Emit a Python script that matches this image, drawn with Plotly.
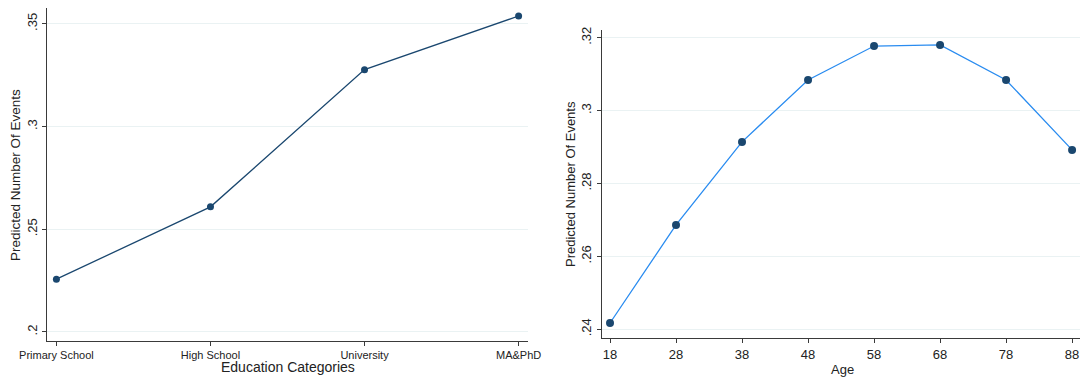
import plotly.graph_objects as go

# Left panel data
edu_categories = ["Primary School", "High School", "University", "MA&PhD"]
edu_values = [0.2257, 0.2609, 0.3277, 0.3538]
edu_yticks = [0.2, 0.25, 0.3, 0.35]
edu_yticklabels = [".2", ".25", ".3", ".35"]

# Right panel data
ages = [18, 28, 38, 48, 58, 68, 78, 88]
age_values = [0.2417, 0.2686, 0.2914, 0.3084, 0.3177, 0.3180, 0.3084, 0.2892]
age_yticks = [0.24, 0.26, 0.28, 0.30, 0.32]
age_yticklabels = [".24", ".26", ".28", ".3", ".32"]

W, H = 1081, 389
FONT = "Liberation Sans, Arial, Helvetica, sans-serif"
NAVY = "#1a476f"
LIGHT = "#2a8cf0"
AXC = "#3a3a3a"
GRID = "#eaf2f3"

def px_x(p):
    return p / W

def px_y(p):
    return 1 - p / H

fig = go.Figure()

fig.add_trace(go.Scatter(
    x=edu_categories, y=edu_values, mode="lines+markers",
    line=dict(color=NAVY, width=1.3),
    marker=dict(color=NAVY, size=7),
    xaxis="x", yaxis="y", showlegend=False,
))

fig.add_trace(go.Scatter(
    x=ages, y=age_values, mode="lines+markers",
    line=dict(color=LIGHT, width=1.3),
    marker=dict(color=NAVY, size=8),
    xaxis="x2", yaxis="y2", showlegend=False,
))

common_axis = dict(
    showline=True, linecolor=AXC, linewidth=1.2,
    ticks="outside", ticklen=4, tickcolor=AXC, tickwidth=1,
    zeroline=False, color="#222", automargin=False,
)

fig.update_layout(
    template="none",
    width=W, height=H,
    margin=dict(l=0, r=0, t=0, b=0, pad=0, autoexpand=False),
    paper_bgcolor="white", plot_bgcolor="white",
    font=dict(family=FONT, color="#222"),
    xaxis=dict(
        domain=[px_x(47), px_x(528)],
        type="category", range=[-0.061, 3.061],
        showgrid=False, anchor="y",
        tickfont=dict(size=11),
        **common_axis,
    ),
    yaxis=dict(
        domain=[px_y(341), px_y(8)],
        range=[0.1956, 0.3577],
        tickvals=edu_yticks, ticktext=edu_yticklabels,
        tickangle=-90, tickfont=dict(size=13),
        showgrid=True, gridcolor=GRID, gridwidth=1,
        anchor="x",
        **common_axis,
    ),
    xaxis2=dict(
        domain=[px_x(601.7), px_x(1080)],
        range=[16.74, 89.2],
        tickvals=ages, ticktext=[str(a) for a in ages],
        showgrid=False, anchor="y2",
        tickfont=dict(size=13),
        **common_axis,
    ),
    yaxis2=dict(
        domain=[px_y(338.3), px_y(30)],
        range=[0.2375, 0.3221],
        tickvals=age_yticks, ticktext=age_yticklabels,
        tickangle=-90, tickfont=dict(size=13),
        showgrid=True, gridcolor=GRID, gridwidth=1,
        anchor="x2",
        **common_axis,
    ),
    annotations=[
        dict(text="Predicted Number Of Events", x=px_x(15), y=px_y(175),
             xref="paper", yref="paper", textangle=-90, showarrow=False,
             font=dict(size=13.5, color="#222"), xanchor="center", yanchor="middle"),
        dict(text="Education Categories", x=px_x(288), y=px_y(367),
             xref="paper", yref="paper", showarrow=False,
             font=dict(size=14, color="#222"), xanchor="center", yanchor="middle"),
        dict(text="Predicted Number Of Events", x=px_x(570), y=px_y(184),
             xref="paper", yref="paper", textangle=-90, showarrow=False,
             font=dict(size=13, color="#222"), xanchor="center", yanchor="middle"),
        dict(text="Age", x=px_x(842), y=px_y(369),
             xref="paper", yref="paper", showarrow=False,
             font=dict(size=13, color="#222"), xanchor="center", yanchor="middle"),
    ],
)

fig.write_html("out.html")
